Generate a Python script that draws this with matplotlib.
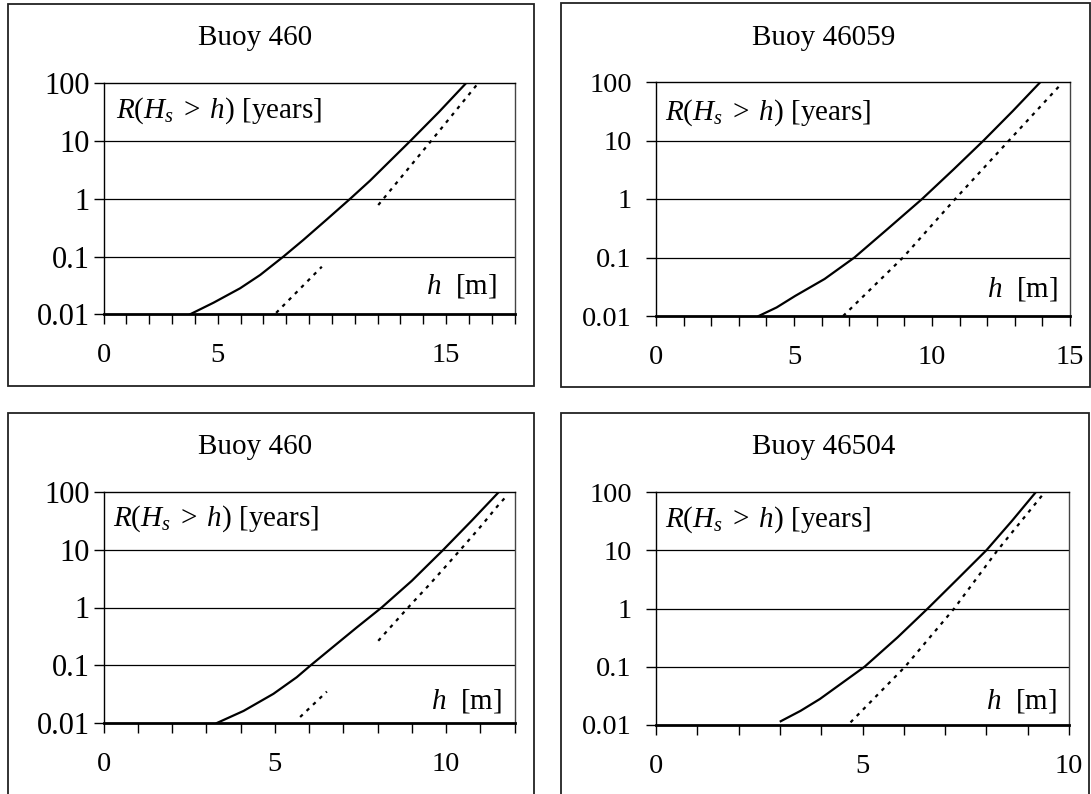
import numpy as np
import matplotlib
matplotlib.use("Agg")
from matplotlib import pyplot as plt
from matplotlib.patches import Rectangle

plt.rcParams['font.family'] = ['Liberation Serif', 'DejaVu Serif']
plt.rcParams['mathtext.fontset'] = 'custom'
plt.rcParams['mathtext.rm'] = 'Liberation Serif'
plt.rcParams['mathtext.it'] = 'Liberation Serif:italic'

titles = ['Buoy 460', 'Buoy 46059', 'Buoy 460', 'Buoy 46504']
x_max = [18, 15, 12, 10]
x_labels = [['0', '5', '', '15'], ['0', '5', '10', '15'], ['0', '5', '10'], ['0', '5', '10']]
y_ticks = [0.01, 0.1, 1, 10, 100]
y_labels = ['0.01', '0.1', '1', '10', '100']

# return period curves, h [m] vs R [years]; nan = gap in the dotted series
h_solid_1 = [3.79, 4.82, 5.98, 6.86, 7.88, 8.75, 9.78, 10.8, 11.67, 13.43, 14.68, 15.87]
r_solid_1 = [0.01, 0.0159, 0.0282, 0.048, 0.1, 0.194, 0.44, 1, 2.06, 10, 31.6, 100]
h_dash_1 = [7.56, 9.56, np.nan, 12.03, 14.34, 16.4]
r_dash_1 = [0.0106, 0.0667, np.nan, 0.78, 10, 100]

h_solid_2 = [3.72, 4.37, 5.04, 6.11, 7.19, 8.4, 9.64, 10.78, 11.87, 12.93, 13.93]
r_solid_2 = [0.01, 0.0140, 0.022, 0.043, 0.1, 0.31, 1, 3.2, 10, 32, 100]
h_dash_2 = [6.78, 8.95, 10.84, 12.79, 14.62]
r_dash_2 = [0.01, 0.1, 1, 10, 86]

h_solid_3 = [3.31, 4.09, 4.96, 5.64, 6.05, 6.71, 7.39, 8.12, 9.0, 9.92, 10.75, 11.54]
r_solid_3 = [0.01, 0.0162, 0.032, 0.062, 0.1, 0.21, 0.45, 1, 2.9, 10, 32, 100]
h_dash_3 = [5.74, 6.52, np.nan, 8.02, 8.95, 9.51, 10.02, 10.53, 11.04, 11.49, 11.8]
r_dash_3 = [0.0127, 0.035, np.nan, 0.265, 1.09, 2.48, 5.4, 11.9, 26.5, 56, 90]

h_solid_4 = [3.02, 3.5, 3.97, 5.05, 5.85, 6.58, 7.3, 8.0, 8.62, 9.2]
r_solid_4 = [0.0116, 0.0175, 0.028, 0.1, 0.32, 1, 3.2, 10, 32, 100]
h_dash_4 = [4.71, 6.03, 7.22, 8.27, 9.38]
r_dash_4 = [0.0111, 0.1, 1, 10, 93]

solid_h = [h_solid_1, h_solid_2, h_solid_3, h_solid_4]
solid_r = [r_solid_1, r_solid_2, r_solid_3, r_solid_4]
dash_h = [h_dash_1, h_dash_2, h_dash_3, h_dash_4]
dash_r = [r_dash_1, r_dash_2, r_dash_3, r_dash_4]

W, H = 1091, 794
fig = plt.figure(figsize=(W / 100, H / 100), dpi=100)


def px_rect(l, t, r, b):
    return [l / W, 1 - b / H, (r - l) / W, (b - t) / H]


# layout in pixels (left, top, right, bottom)
areas = [(103.5, 83.3, 514.6, 314.3), (656, 82, 1070, 316), (103.5, 492, 514.6, 723), (656, 492, 1069, 725)]
boxes = [(8, 4, 534, 386), (561, 3, 1090, 387), (8, 413, 534, 800), (561, 413, 1089, 800)]
title_pos = [(255, 38), (824, 38), (255, 447), (824, 447)]
ylab_text = [(0.030, 0.85), (0.021, 0.837), (0.023, 0.856), (0.021, 0.85)]
hlab_text = [(0.958, 0.091), (0.971, 0.082), (0.970, 0.062), (0.970, 0.07)]
ypad = [3, 10.5, 3, 10.5]
ysize = [22, 20.5, 22, 20.5]

for i in range(4):
    l, t, r, b = boxes[i]
    fig.patches.append(Rectangle((l / W, 1 - b / H), (r - l) / W, (b - t) / H,
                                 transform=fig.transFigure, fill=False,
                                 edgecolor='#222222', linewidth=1.3))
    fig.text(title_pos[i][0] / W, 1 - title_pos[i][1] / H, titles[i],
             ha='center', va='center', fontsize=21)

    ax = fig.add_axes(px_rect(*areas[i]))
    ax.plot(solid_h[i], solid_r[i], color='black', lw=1.6)
    ax.plot(dash_h[i], dash_r[i], color='black', lw=1.6, linestyle=(0, (1.6, 2.4)))
    ax.set_yscale('log')
    ax.set_ylim(0.01, 100)
    ax.set_xlim(0, x_max[i])
    ax.set_yticks(y_ticks)
    ax.set_yticklabels(y_labels)
    ax.minorticks_off()
    xt = np.arange(0, x_max[i] + 1)
    ax.set_xticks(xt)
    labs = []
    for v in xt:
        if v % 5 == 0 and v // 5 < len(x_labels[i]):
            labs.append(x_labels[i][v // 5])
        else:
            labs.append('')
    ax.set_xticklabels(labs)
    ax.tick_params(axis='x', direction='out', length=7, width=1, pad=14, labelsize=20.5)
    ax.tick_params(axis='y', direction='out', length=7, width=1, pad=ypad[i], labelsize=ysize[i])
    for v in [0.1, 1, 10]:
        ax.axhline(v, color='black', lw=0.9, zorder=0)
    ax.spines['bottom'].set_linewidth(2)
    ax.spines['left'].set_linewidth(1)
    ax.spines['top'].set_linewidth(1)
    ax.spines['right'].set_linewidth(1)
    ax.spines['right'].set_color('#444444')

    ax.text(ylab_text[i][0], ylab_text[i][1], r'$R(H_s\;>\;h)$ [years]', transform=ax.transAxes,
            ha='left', va='baseline', fontsize=21)
    ax.text(hlab_text[i][0], hlab_text[i][1], r'$h$  [m]', transform=ax.transAxes,
            ha='right', va='baseline', fontsize=21)

fig.savefig('out.png', dpi=100)
